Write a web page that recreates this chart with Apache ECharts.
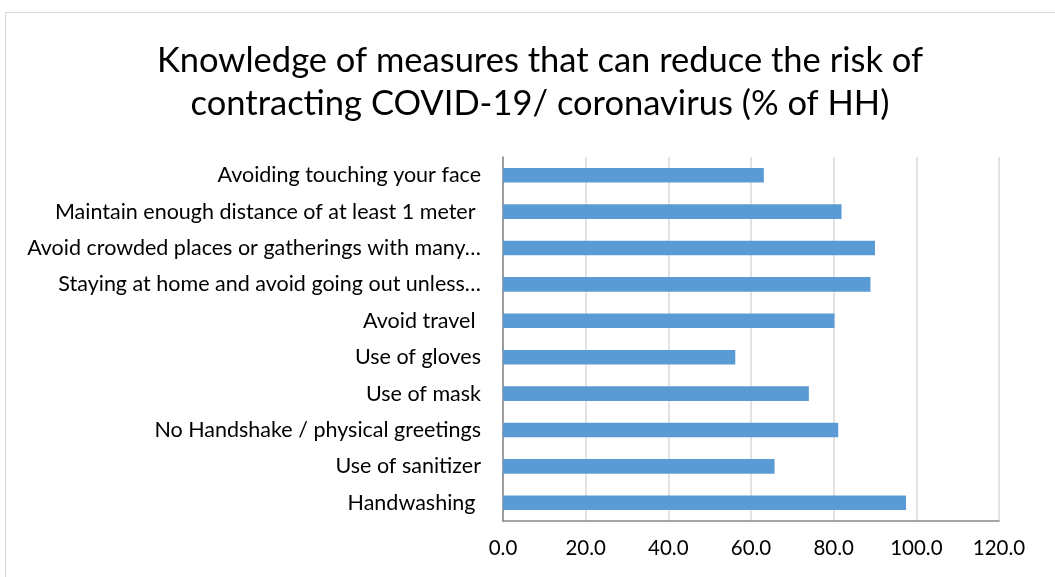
<!DOCTYPE html>
<html>
<head>
<meta charset="utf-8">
<script src="https://cdn.jsdelivr.net/npm/echarts@6/dist/echarts.min.js"></script>
<style>
  html, body { margin: 0; padding: 0; background: #fff; }
  #frame { position: absolute; left: 5px; top: 12px; width: 1050px; height: 565px;
           border-left: 1px solid #d9d9d9; border-top: 1px solid #d9d9d9; }
  #chart { position: absolute; left: 0; top: 0; width: 1055px; height: 577px; }
</style>
</head>
<body>
<div id="frame"></div>
<div id="chart"></div>
<script>
// categories listed bottom -> top
const measures = [
  'Handwashing ',
  'Use of sanitizer',
  'No Handshake / physical greetings',
  'Use of mask',
  'Use of gloves',
  'Avoid travel ',
  'Staying at home and avoid going out unless…',
  'Avoid crowded places or gatherings with many…',
  'Maintain enough distance of at least 1 meter ',
  'Avoiding touching your face'
]
const pctHH = [97.5, 65.7, 81.1, 74.0, 56.2, 80.2, 88.9, 90.0, 81.9, 63.1]
const xTicks = [0, 20, 40, 60, 80, 100, 120]

let myChart = echarts.init(document.getElementById('chart'))
myChart.setOption({
  animation: false,
  textStyle: { fontFamily: 'Lato' },
  title: {
    text: 'Knowledge of measures that can reduce the risk of\ncontracting COVID-19/ coronavirus (% of HH)',
    left: 535,
    textAlign: 'center',
    top: 34,
    textStyle: {
      fontFamily: 'Lato',
      fontWeight: 'normal',
      fontSize: 34.5,
      lineHeight: 43,
      color: '#000'
    }
  },
  grid: {
    left: 503,
    right: 56,
    top: 157,
    bottom: 56,
    containLabel: false
  },
  xAxis: {
    type: 'value',
    min: xTicks[0],
    max: xTicks[xTicks.length - 1],
    interval: 20,
    axisLine: { show: true, lineStyle: { color: '#868686', width: 1.5 } },
    axisTick: { show: false },
    splitLine: { show: true, lineStyle: { color: '#d9d9d9', width: 1.5 } },
    axisLabel: {
      color: '#000',
      fontSize: 20.5,
      margin: 17,
      formatter: v => v.toFixed(1)
    }
  },
  yAxis: {
    type: 'category',
    data: measures,
    axisLine: { show: true, lineStyle: { color: '#868686', width: 1.5 } },
    axisTick: { show: false },
    axisLabel: {
      color: '#000',
      fontSize: 21.5,
      margin: 22
    }
  },
  series: [
    {
      name: '% of HH',
      type: 'bar',
      data: pctHH,
      barWidth: '40%',
      itemStyle: { color: '#5b9bd5' }
    }
  ]
})
</script>
</body>
</html>
